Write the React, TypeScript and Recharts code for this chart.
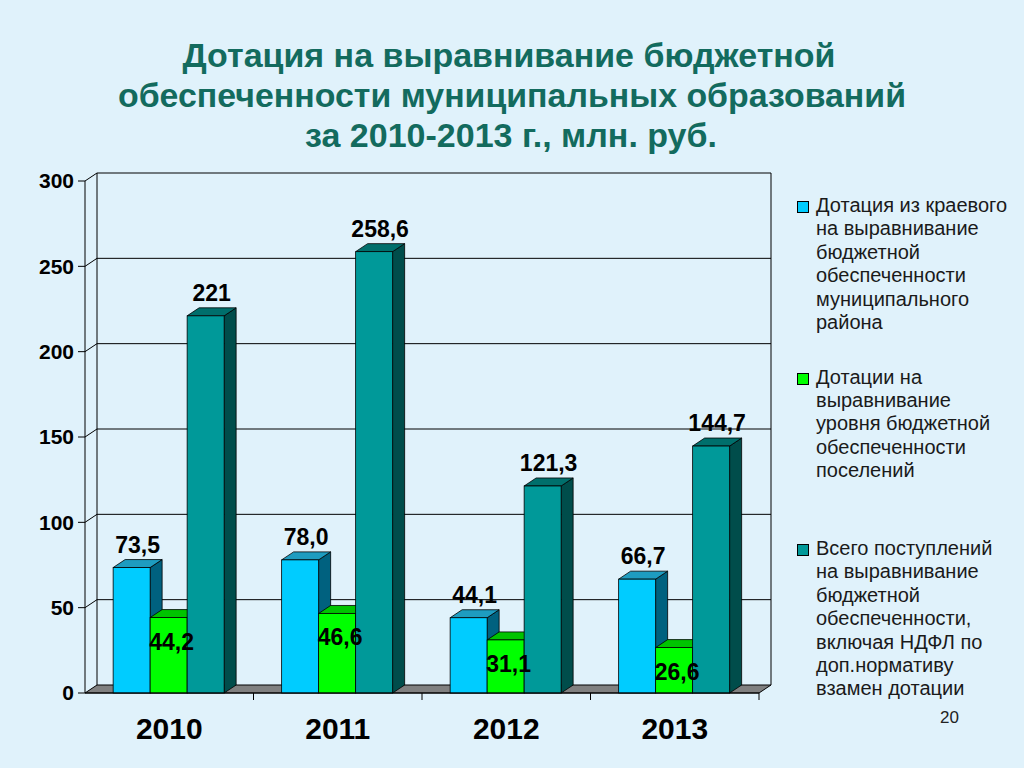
import React from "react";
import { Bar, BarChart, CartesianGrid, LabelList, Legend, XAxis, YAxis } from "recharts";

const years = ["2010", "2011", "2012", "2013"];
const regionGrant = [73.5, 78.0, 44.1, 66.7];
const settlementGrant = [44.2, 46.6, 31.1, 26.6];
const totalReceipts = [221, 258.6, 121.3, 144.7];
const yTicks = [0, 50, 100, 150, 200, 250, 300];
const seriesNames = [
    "Дотация из краевого\nна выравнивание\nбюджетной\nобеспеченности\nмуниципального\nрайона",
    "Дотации на\nвыравнивание\nуровня бюджетной\nобеспеченности\nпоселений",
    "Всего поступлений\nна выравнивание\nбюджетной\nобеспеченности,\nвключая НДФЛ по\nдоп.нормативу\nвзамен дотации",
];
const titleLines = [
    "Дотация на выравнивание бюджетной",
    "обеспеченности муниципальных образований",
    "за 2010-2013 г., млн. руб.",
];
const pageNumber = "20";

const data = years.map((year, i) => ({
    year,
    region: regionGrant[i],
    settlement: settlementGrant[i],
    total: totalReceipts[i],
}));

const BG = "#e0f2fb";
const FONT = "'Liberation Sans', Arial, sans-serif";
const DX = 12; // depth of the 3d box
const DY = 8;
const PLOT_TOP = 181;
const PLOT_BOTTOM = 693;
const PLOT_LEFT = 85;
const PLOT_RIGHT = 759;
const BAND = (PLOT_RIGHT - PLOT_LEFT) / years.length;

const colors = {
    region: { front: "#00ccff", top: "#1e9cc0", side: "#00617f" },
    settlement: { front: "#00ff00", top: "#00c400", side: "#008a00" },
    total: { front: "#009999", top: "#006f6c", side: "#004d4b" },
};

const oneDecimal = (v: number) => v.toFixed(1).replace(".", ",");
const plain = (v: number) => String(v).replace(".", ",");

const box3d = (c: { front: string; top: string; side: string }) => (props: any) => {
    const { x, y, width, height } = props;
    if (!height || height <= 0) return <g />;
    const top = `${x},${y} ${x + DX},${y - DY} ${x + width + DX},${y - DY} ${x + width},${y}`;
    const side = `${x + width},${y} ${x + width + DX},${y - DY} ${x + width + DX},${y + height - DY} ${x + width},${y + height}`;
    return (
        <g>
            <polygon points={side} fill={c.side} stroke="#000" strokeWidth={0.8} />
            <polygon points={top} fill={c.top} stroke="#000" strokeWidth={0.8} />
            <rect x={x} y={y} width={width} height={height} fill={c.front} stroke="#000" strokeWidth={0.8} />
        </g>
    );
};

const labelAbove = (fmt: (v: number) => string) => (p: any) => {
    const { x, y, width, value } = p;
    return (
        <text x={x + width / 2 + DX / 2} y={y - DY - 7} textAnchor="middle"
            fontFamily={FONT} fontWeight="bold" fontSize={23} fill="#000">
            {fmt(value)}
        </text>
    );
};

const labelInside = (p: any) => {
    const { x, y, width, value } = p;
    return (
        <text x={x + width / 2 + 3} y={y + 32} textAnchor="middle"
            fontFamily={FONT} fontWeight="bold" fontSize={23} fill="#000">
            {oneDecimal(value)}
        </text>
    );
};

// grid lines run from the front axis back onto the wall
const gridLine = (p: any) => {
    const { x1, y1, x2 } = p;
    if (Math.abs(y1 - PLOT_BOTTOM) < 1) {
        const floor = `${x1},${y1} ${x2},${y1} ${x2 + DX},${y1 - DY} ${x1 + DX},${y1 - DY}`;
        return <polygon key={`h-${y1}`} points={floor} fill="#808080" stroke="#000" strokeWidth={1} />;
    }
    let d = `M${x1},${y1}L${x1 + DX},${y1 - DY}L${x2 + DX},${y1 - DY}`;
    if (Math.abs(y1 - PLOT_TOP) < 1) {
        d += `L${x2 + DX},${PLOT_BOTTOM - DY}M${x1 + DX},${y1 - DY}L${x1 + DX},${PLOT_BOTTOM - DY}`;
    }
    return <path key={`h-${y1}`} d={d} fill="none" stroke="#000" strokeWidth={1} />;
};

const YearTick = (p: any) => {
    const { x, payload } = p;
    return (
        <g>
            <line x1={x + BAND / 2} y1={PLOT_BOTTOM} x2={x + BAND / 2} y2={PLOT_BOTTOM + 7} stroke="#000" />
            <text x={x} y={PLOT_BOTTOM + 46} textAnchor="middle" fontFamily={FONT}
                fontWeight="bold" fontSize={30} fill="#000">
                {payload.value}
            </text>
        </g>
    );
};

const LegendBox = (p: any) => {
    const items = [...(p.payload || [])].sort(
        (a: any, b: any) => seriesNames.indexOf(a.value) - seriesNames.indexOf(b.value));
    return (
        <div style={{ fontFamily: FONT, textAlign: "left" }}>
            {items.map((it: any, i: number) => (
                <div key={i} style={{ height: 171.5, display: "flex", alignItems: "flex-start" }}>
                    <div style={{
                        width: 10, height: 10, marginTop: 7, marginRight: 7, flex: "none",
                        background: it.color, border: "1px solid #000",
                    }} />
                    <div style={{ fontSize: 20, lineHeight: "23.4px", color: "#1a1a1a", whiteSpace: "pre-line" }}>
                        {it.value}
                    </div>
                </div>
            ))}
        </div>
    );
};

const App = () => {
    return (
        <div style={{ position: "absolute", left: 0, top: 0, width: 1024, height: 768, background: BG, overflow: "hidden" }}>
            <svg width={1024} height={170} style={{ position: "absolute", left: 0, top: 0 }}>
                {titleLines.map((t, i) => (
                    <text key={i} x={[509, 512, 511][i]} y={67 + i * 40} textAnchor="middle"
                        textLength={[653, 788, 412][i]} lengthAdjust="spacingAndGlyphs"
                        fontFamily="'Liberation Sans Narrow', 'Liberation Sans', sans-serif"
                        fontWeight="bold" fontSize={34} fill="#136b5e">
                        {t}
                    </text>
                ))}
            </svg>
            <div style={{ position: "absolute", left: 0, top: 0 }}>
                <BarChart width={1024} height={768} data={data}
                    margin={{ top: PLOT_TOP, right: 1024 - PLOT_RIGHT, bottom: 35, left: 25 }}
                    barCategoryGap="16.7%" barGap={0}>
                    <CartesianGrid vertical={false} horizontal={gridLine} />
                    <XAxis dataKey="year" height={40} axisLine={{ stroke: "#000" }} tickLine={false} tick={YearTick} interval={0} />
                    <YAxis width={60} domain={[0, 300]} ticks={yTicks} interval={0} tickSize={7} tickMargin={4}
                        axisLine={{ stroke: "#000" }} tickLine={{ stroke: "#000" }}
                        tick={{ fontFamily: FONT, fontWeight: "bold", fontSize: 21, fill: "#000" }} />
                    <Legend layout="vertical" verticalAlign="middle" align="center" content={LegendBox}
                        itemSorter={(item: any) => seriesNames.indexOf(item.value)}
                        wrapperStyle={{ position: "absolute", left: 797, top: 194, width: 225 }} />
                    <Bar dataKey="region" name={seriesNames[0]} fill={colors.region.front}
                        shape={box3d(colors.region)} isAnimationActive={false}>
                        <LabelList dataKey="region" content={labelAbove(oneDecimal)} />
                    </Bar>
                    <Bar dataKey="settlement" name={seriesNames[1]} fill={colors.settlement.front}
                        shape={box3d(colors.settlement)} isAnimationActive={false}>
                        <LabelList dataKey="settlement" content={labelInside} />
                    </Bar>
                    <Bar dataKey="total" name={seriesNames[2]} fill={colors.total.front}
                        shape={box3d(colors.total)} isAnimationActive={false}>
                        <LabelList dataKey="total" content={labelAbove(plain)} />
                    </Bar>
                </BarChart>
            </div>
            <div style={{ position: "absolute", left: 940, top: 708, fontFamily: FONT, fontSize: 17, color: "#222" }}>
                {pageNumber}
            </div>
        </div>
    );
};

export default App;
